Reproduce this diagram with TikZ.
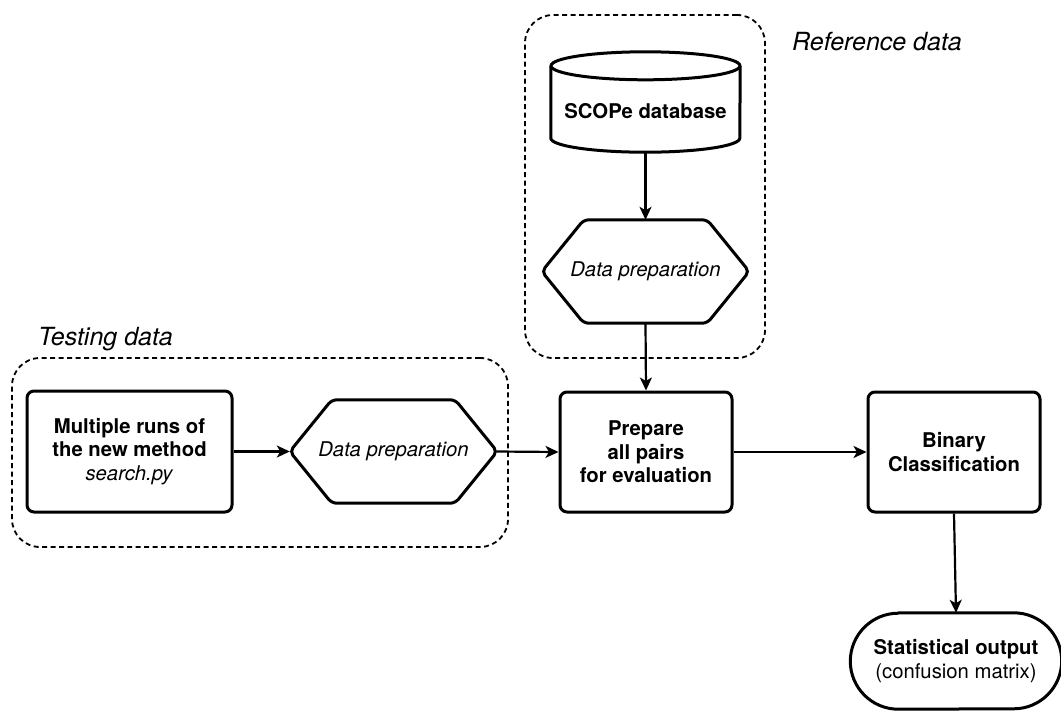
\documentclass[tikz,border=0pt]{standalone}
\usepackage{fontspec}
\setmainfont{TeX Gyre Heros}
\usetikzlibrary{arrows.meta,calc}

\newcommand\diagfont{\fontsize{20.3}{23.5}\selectfont}
\newcommand\tagfont{\fontsize{25}{30}\selectfont}

\begin{document}
\begin{tikzpicture}[x=1pt,y=-1pt,
  outline/.style={line width=3pt, line join=round},
  proc/.style={draw, outline, rounded corners=7pt, align=center, font=\diagfont, inner sep=0pt},
  plain/.style={align=center, font=\diagfont, inner sep=0pt},
  group/.style={draw, dash pattern=on 5pt off 3.5pt, line width=1.8pt, rounded corners=28pt, inner sep=0pt},
  grouplabel/.style={font=\tagfont\itshape, anchor=base west, inner sep=0pt},
  flow/.style={line width=2.2pt, -{Stealth[length=13pt,width=12pt,inset=3.5pt]}}
]
\useasboundingbox (0,0) rectangle (1061,713);

% dashed groups and their captions
\node[group, minimum width=240pt, minimum height=343pt] (refgrp) at (645,186.5) {};
\node[grouplabel] (reflabel) at (792,50) {Reference data};
\node[group, minimum width=496pt, minimum height=189pt] (testgrp) at (260,452.5) {};
\node[grouplabel] (testlabel) at (38,345) {Testing data};

% database cylinder
\node[plain, minimum width=189pt, minimum height=100pt] (db) at (645.5,102) {};
\draw[outline] ($(db.north west)+(0,14)$) -- ($(db.south west)+(0,-14)$)
  arc[start angle=180, end angle=360, x radius=94.5pt, y radius=14pt]
  -- ($(db.north east)+(0,14)$);
\draw[outline] ($(db.north)+(0,14)$) ellipse [x radius=94.5pt, y radius=14pt];
\node[plain, font=\diagfont\bfseries] (dblabel) at ($(db.center)+(0,9)$) {SCOPe database};

% data preparation hexagons
\node[plain, font=\diagfont\itshape, minimum width=207pt, minimum height=103pt] (prepref) at (645.5,271.5) {Data preparation};
\node[plain, font=\diagfont\itshape, minimum width=207pt, minimum height=103pt] (preptest) at (393.5,451.5) {Data preparation};
\foreach \h in {prepref,preptest}{
  \draw[outline, rounded corners=5pt] (\h.west) -- ($(\h.north west)+(42,0)$) -- ($(\h.north east)+(-42,0)$)
    -- (\h.east) -- ($(\h.south east)+(-42,0)$) -- ($(\h.south west)+(42,0)$) -- cycle;
}

% process boxes
\node[proc, minimum width=205pt, minimum height=121pt] (runs) at (129.5,451.5)
  {\textbf{Multiple runs of}\\\textbf{the new method}\\\textit{search.py}};
\node[proc, font=\diagfont\bfseries, minimum width=172pt, minimum height=120pt] (pairs) at (646,452)
  {Prepare\\all pairs\\for evaluation};
\node[proc, font=\diagfont\bfseries, minimum width=172pt, minimum height=120pt] (binary) at (954,452)
  {Binary\\Classification};

% terminator
\node[plain, minimum width=211pt, minimum height=96pt] (stat) at (956,661)
  {\textbf{Statistical output}\\(confusion matrix)};
\draw[outline] ($(stat.north west)+(48,0)$) -- ($(stat.north east)+(-48,0)$)
  arc[start angle=90, end angle=-90, x radius=48pt, y radius=48pt]
  -- ($(stat.south west)+(48,0)$)
  arc[start angle=270, end angle=90, x radius=48pt, y radius=48pt] -- cycle;

% connectors
\draw[flow] (db.south) -- (prepref.north);
\draw[flow] (prepref.south) -- (pairs.north);
\draw[flow] (runs.east) -- (preptest.west);
\draw[flow] (preptest.east) -- (pairs.west);
\draw[flow] (pairs.east) -- (binary.west);
\draw[flow] (binary.south) -- (stat.north);
\end{tikzpicture}
\end{document}
